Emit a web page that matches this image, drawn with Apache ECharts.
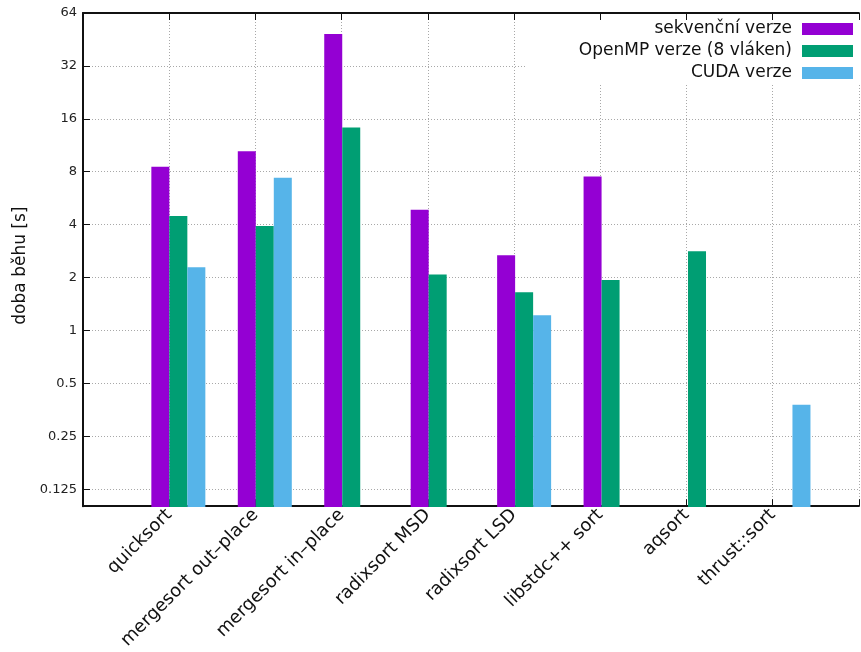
<!DOCTYPE html>
<html>
<head>
<meta charset="utf-8">
<script src="https://cdn.jsdelivr.net/npm/echarts@6/dist/echarts.min.js"></script>
<style>html,body{margin:0;padding:0;background:#fff}#c{width:861px;height:652px}</style>
</head>
<body>
<div id="c"></div>
<script>
var categories = ['quicksort', 'mergesort out–place', 'mergesort in–place', 'radixsort MSD', 'radixsort LSD', 'libstdc++ sort', 'aqsort', 'thrust::sort'];
var seqValues  = [8.57, 10.5, 48.7, 4.88, 2.69, 7.53, null, null];
var ompValues  = [4.50, 3.95, 14.3, 2.09, 1.66, 1.95, 2.84, null];
var cudaValues = [2.30, 7.43, null, null, 1.23, null, null, 0.381];
var seriesNames = ['sekvenční verze', 'OpenMP verze (8 vláken)', 'CUDA verze'];
var colors = ['#9400D3', '#009E73', '#56B4E9'];

function pts(arr) { return arr.map(function (v, i) { return [i, v === null ? '-' : v]; }); }

var FONT = 'DejaVu Sans';
var chart = echarts.init(document.getElementById('c'));
var gridDef = { left: 83, top: 13, width: 787, height: 494 };
var dotted = { show: true, lineStyle: { color: '#a8a8a8', type: [1, 2], width: 1 } };

var legends = seriesNames.map(function (n, k) {
  return {
    data: [n], right: 8, top: 18 + 22 * k, orient: 'vertical', align: 'right',
    itemWidth: 51, itemHeight: 12, itemGap: 0, padding: 0, z: 10,
    icon: 'rect', selectedMode: false,
    textStyle: { fontFamily: FONT, fontSize: 17, color: '#111', lineHeight: 22, padding: [0, 5, 0, 0] }
  };
});

chart.setOption({
  animation: false,
  textStyle: { fontFamily: FONT },
  grid: [gridDef, gridDef],
  legend: legends,
  graphic: [{ type: 'rect', shape: { x: 527, y: 14, width: 340, height: 71 }, style: { fill: '#fff' }, z: 3, silent: true }],
  xAxis: [
    {
      type: 'value', gridIndex: 0, min: -1, max: 8, interval: 1, position: 'bottom',
      axisLine: { show: true, onZero: false, lineStyle: { color: '#111', width: 2 } },
      axisTick: { show: true, inside: true, length: 7, lineStyle: { color: '#111' } },
      splitLine: dotted,
      axisLabel: {
        rotate: 45, margin: 6, fontSize: 18, color: '#111', fontFamily: FONT,
        formatter: function (v) { return categories[v] !== undefined ? categories[v] : ''; }
      }
    },
    {
      type: 'value', gridIndex: 1, min: -1 - 0.103, max: 8 - 0.103, show: false
    },
    {
      type: 'value', gridIndex: 0, min: -1, max: 8, interval: 1, position: 'top', z: 5,
      axisLine: { show: true, onZero: false, lineStyle: { color: '#111', width: 2 } },
      axisTick: { show: true, inside: true, length: 7, lineStyle: { color: '#111' } },
      splitLine: { show: false }, axisLabel: { show: false }
    }
  ],
  yAxis: [
    {
      type: 'log', logBase: 2, gridIndex: 0, min: 0.1, max: 64, splitNumber: 10,
      name: 'doba běhu [s]', nameLocation: 'middle', nameGap: 52,
      nameTextStyle: { fontFamily: FONT, fontSize: 17, color: '#111', padding: [0, 12, 0, 0] },
      axisLine: { show: true, onZero: false, lineStyle: { color: '#111', width: 2 } },
      axisTick: { show: true, inside: true, length: 7, lineStyle: { color: '#111' } },
      splitLine: dotted,
      axisLabel: { showMinLabel: false, fontSize: 13, color: '#222', margin: 6, fontFamily: FONT,
        formatter: function (v) { return v < 0.11 ? '' : String(+v.toPrecision(6)); } }
    },
    { type: 'log', logBase: 2, gridIndex: 1, min: 0.1, max: 64, startValue: 0.1, show: false }
  ],
  series: [seqValues, ompValues, cudaValues].map(function (arr, k) {
    return {
      name: seriesNames[k], type: 'bar', xAxisIndex: 1, yAxisIndex: 1,
      data: pts(arr), barWidth: 18, barGap: '0%', z: 2,
      itemStyle: { color: colors[k] }
    };
  })
});
</script>
</body>
</html>
